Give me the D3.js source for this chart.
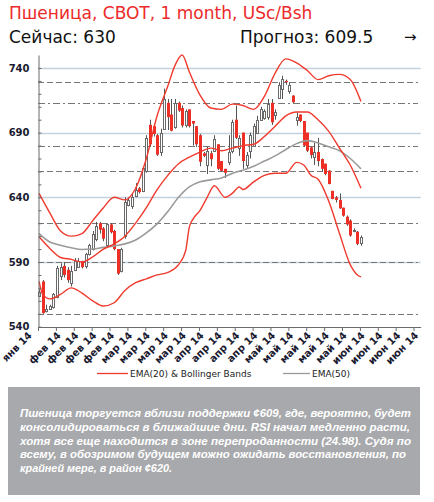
<!DOCTYPE html>
<html><head><meta charset="utf-8">
<script src="https://cdn.jsdelivr.net/npm/d3@7"></script>
<style>body{margin:0;background:#fff}</style>
</head><body><svg id="c" width="434" height="502"></svg>
<script>
// ---------------- DATA ----------------
const xLabels = ["янв 14","фев 14","фев 14","фев 14","фев 14","мар 14","мар 14","мар 14","мар 14","апр 14","апр 14","апр 14","апр 14","май 14","май 14","май 14","май 14","май 14","июн 14","июн 14","июн 14","июн 14"];
const yTicks = [540,590,640,690,740];
const dashedLevels = [729,660,620,590,550];
const dashDotLevels = [713,680];

const open  = [564,575,552.5,554,555,563,579,587,584,574, 584,586.5,590,587,596,600,608,620,616,603, 619,614,600,583,610,634,633,641,647,645, 660,696,695,688,675,693,713,704,694,713, 709,696,708,699,695,688,674,665,674,676, 681,668,662,667,676,700,678,690,665,676, 680,690,700,701,702,713,704,717,724,730, 722,718.6,700,704,699,690,678.6,671,675,669.6, 666,660.6,645,640,638,632,625,622,614,613.4, 604.6];
const close = [567,550.5,554,556,565,585,586,580,576,583, 591,590.5,586,596,603,612,618,615,608,619, 613,600,581,600,636,638,640,646,644,663, 686,681,689,673,690,716,702,691.5,713,707, 695.5,707,695,697,681,667.5,672,676,669.5,685, 662,660.5,659,675,698,686,686,668,673,688, 695,700,708,707,712,698,706,727,731.5,729, 727,713.5,702,699,680,676,672.7,675,668,662, 658,650.3,638.7,638,631.5,625.8,619,610.5,615,604, 609];
const high  = [569,576,557,557,566,587,589,590,586,587, 593,593,591,597,604,614,621,621,617,620, 620,615,600,601,640,640,643,651,648,664, 688,700,697,689,693,724,716,716,716,714, 711,708,708,699,695,689,675,679,676,688, 681,668,662,688,700,711,688,690,675,690, 697,703,710,708,716,716,708,729,734,731, 729,719,705.7,704,699,690,679,682,686,670, 666,661,645,641,643,632,626,623,616,614, 610.5];
const low   = [563,550,551,553,554,562,576,578,574,571, 583,586,585,585,595,599,606,612,606,602, 612,599,580,582,608,633,631,640,643,644, 659,679,687,672,672,692,692,691,693,706, 694,694,694,680,679,664,671,658,664,675, 661,660,655,665,674,685,672,662,662,670, 679,689,699,700,700,696,700,716,716,727, 720,713,695.4,698,679,675,670,665,664,660, 657,650,638.5,636,631,625,618,609.5,613,603, 602.5];

const ema20Idx = [0,3,6,9,12,15,18,21,24,27,30,33,36,39,42,45,48,51,54,57,60,63,66,69,72,75,78,81,84,87,90];
const ema20    = [609.5,600.5,593.5,592,590,594,600,604,610,620,632,646,657,666,671,675,678,676,678,680,681,687,695,703,706,706,700,691,678,665,647];

const upperIdx = [0,3,6,9,12,15,18,21,24,27,30,33,36,38,40,42,45,48,51,54,57,60,63,66,69,72,75,78,81,84,87,90];
const upper    = [643,628,614,610,612,622,632,640,638,647,670,703,726,742,750,737,719,709,708,712,711,708,718,736,747,744,738,731,734,735,731,714];

const lowerIdx = [0,1,3,6,9,12,15,18,21,24,27,30,33,36,39,41,42,43,45,47,49,52,54,56,57,60,63,66,69,72,74,76,78,81,84,87,89,90];
const lower    = [575,565,561.5,565,570,566,560,556,558.5,568,574,577,580,582,588,599,617,623,630,640,649,640,643,648,646,652,657,658.6,658.6,667,665,657,654,637,612,588,580,578.5];

const ema50Idx = [0,3,6,9,12,15,18,21,24,27,30,33,36,39,42,45,48,51,54,57,60,63,66,69,72,75,78,81,84,87,90];
const ema50    = [612,605.5,603,601,599.7,600,601.3,602.5,604,607,612.5,619.5,629,640,648,652,653.5,655,658.5,661,664,668,672,677,681.5,683.8,682,679,676,670,662];

const title = "Пшеница, CBOT, 1 month, USc/Bsh";
const nowText = "Сейчас: 630";
const fcText = "Прогноз: 609.5";
const comment = [
 "Пшеница торгуется вблизи поддержки ¢609, где, вероятно, будет",
 "консолидироваться в ближайшие дни. RSI начал медленно расти,",
 "хотя все еще находится в зоне перепроданности (24.98). Судя по",
 "всему, в обозримом будущем можно ожидать восстановления, по",
 "крайней мере, в район ¢620."
];
const commentWidths = [391,390,391,386,152];

// ---------------- CHART ----------------
const svg = d3.select('#c');
const RED = '#ee2f25', LINE_RED = '#f03a2e', GRAY = '#9a9a9a', AX = '#6b6b6b';
const x = d3.scaleLinear().domain([0,107]).range([38,420.7]);
const y = d3.scaleLinear().domain([540,750]).range([326.7,55]);
const OFF = 0.3;
const cx = i => x(i + OFF);
const py = v => Math.round(y(v)) + 0.5;

// headings
svg.append('text').attr('x',9).attr('y',18.5).attr('fill','#ec2a2a')
  .style('font-family','DejaVu Sans').style('font-size','17px').text(title);
svg.append('text').attr('x',9).attr('y',42.5).attr('fill','#111')
  .style('font-family','DejaVu Sans').style('font-size','17px').text(nowText);
svg.append('text').attr('x',240).attr('y',42.5).attr('fill','#111')
  .style('font-family','DejaVu Sans').style('font-size','17px').text(fcText);
svg.append('text').attr('x',404).attr('y',42).attr('fill','#111')
  .style('font-family','DejaVu Sans').style('font-size','15px').text('→');

// gridlines
svg.append('g').selectAll('line').data(yTicks.filter(d=>d>540)).join('line')
  .attr('x1',38).attr('x2',420.7).attr('y1',d=>py(d)).attr('y2',d=>py(d))
  .attr('stroke','#c3d1de').attr('stroke-width',1.3);

// reference levels
svg.append('g').selectAll('line').data(dashedLevels).join('line')
  .attr('x1',38).attr('x2',418).attr('y1',d=>py(d)).attr('y2',d=>py(d))
  .attr('stroke','#777').attr('stroke-width',1.2).attr('stroke-dasharray','6,3');
svg.append('g').selectAll('line').data(dashDotLevels).join('line')
  .attr('x1',38).attr('x2',418).attr('y1',d=>py(d)).attr('y2',d=>py(d))
  .attr('stroke','#777').attr('stroke-width',1.2).attr('stroke-dasharray','7,3,2,3');

// candles
const idx = d3.range(open.length);
const cg = svg.append('g');
cg.selectAll('line').data(idx).join('line')
  .attr('x1',i=>Math.round(cx(i))+0.5).attr('x2',i=>Math.round(cx(i))+0.5)
  .attr('y1',i=>y(high[i])).attr('y2',i=>y(low[i]))
  .attr('stroke','#555').attr('stroke-width',1);
cg.selectAll('rect.dn').data(idx.filter(i=>close[i]<open[i])).join('rect').attr('class','dn')
  .attr('x',i=>Math.round(cx(i))-1).attr('width',3)
  .attr('y',i=>y(open[i])).attr('height',i=>Math.max(1,y(close[i])-y(open[i])))
  .attr('fill',RED);
cg.selectAll('rect.up').data(idx.filter(i=>close[i]>=open[i])).join('rect').attr('class','up')
  .attr('x',i=>Math.round(cx(i))-0.5).attr('width',2)
  .attr('y',i=>Math.round(y(close[i]))+0.5).attr('height',i=>Math.max(1,Math.round(y(open[i]))-Math.round(y(close[i]))))
  .attr('fill','#fff').attr('stroke','#6a6a6a').attr('stroke-width',1);

// indicator lines
const lineGen = d3.line().x(d=>cx(d[0])).y(d=>y(d[1])).curve(d3.curveMonotoneX);
svg.append('path').datum(d3.zip(ema50Idx,ema50)).attr('d',lineGen)
  .attr('fill','none').attr('stroke',GRAY).attr('stroke-width',1.6);
[[upperIdx,upper],[ema20Idx,ema20],[lowerIdx,lower]].forEach(([ix,v])=>{
  svg.append('path').datum(d3.zip(ix,v)).attr('d',lineGen)
    .attr('fill','none').attr('stroke',LINE_RED).attr('stroke-width',1.4);
});

// y axis
const yAxis = svg.append('g').attr('transform','translate(38.5,0)')
  .call(d3.axisLeft(y).tickValues(d3.range(540,741,10)).tickSizeInner(-3).tickSizeOuter(0).tickPadding(9)
    .tickFormat(d=> yTicks.includes(d) ? d : ''));
yAxis.select('.domain').attr('stroke',AX);
yAxis.selectAll('.tick line').attr('stroke',AX);
yAxis.selectAll('text').style('font-family','DejaVu Sans').style('font-size','10px')
  .style('font-weight','bold').attr('fill','#1a1a30');

// x axis
const xAxis = svg.append('g').attr('transform','translate(0,327)')
  .call(d3.axisBottom(x).tickValues(d3.range(0,106,5)).tickSizeInner(4).tickSizeOuter(0)
    .tickFormat((d,k)=>xLabels[k]));
xAxis.select('.domain').attr('stroke',AX);
xAxis.selectAll('.tick line').attr('stroke',AX);
xAxis.selectAll('text').attr('x',0).attr('y',0).attr('dy',0)
  .attr('transform',(d,k)=> k===0 ? 'translate(-6,9) rotate(-45)' : 'translate(5,9) rotate(-45)')
  .attr('text-anchor','end')
  .style('font-family','DejaVu Sans').style('font-size','10px').style('font-weight','bold').attr('fill','#1a1a30');

// legend
const lg = svg.append('g');
lg.append('line').attr('x1',97).attr('x2',128).attr('y1',373.5).attr('y2',373.5).attr('stroke',LINE_RED).attr('stroke-width',1.3);
lg.append('text').attr('x',130).attr('y',377).style('font-family','DejaVu Sans').style('font-size','9px').attr('fill','#222').text('EMA(20) & Bollinger Bands');
lg.append('line').attr('x1',283).attr('x2',310).attr('y1',373.5).attr('y2',373.5).attr('stroke',GRAY).attr('stroke-width',1.3);
lg.append('text').attr('x',312).attr('y',377).style('font-family','DejaVu Sans').style('font-size','9px').attr('fill','#222').text('EMA(50)');

// comment box
svg.append('rect').attr('x',8).attr('y',387).attr('width',412).attr('height',108).attr('fill','#a7a9ac');
svg.append('g').selectAll('text').data(comment).join('text')
  .attr('x',20).attr('y',(d,i)=>417+i*13.8)
  .attr('textLength',(d,i)=>commentWidths[i]).attr('lengthAdjust','spacingAndGlyphs')
  .style('font-family','Liberation Sans').style('font-size','11.5px').style('font-style','italic')
  .style('font-weight','600').attr('fill','#fff').text(d=>d);
</script></body></html>
